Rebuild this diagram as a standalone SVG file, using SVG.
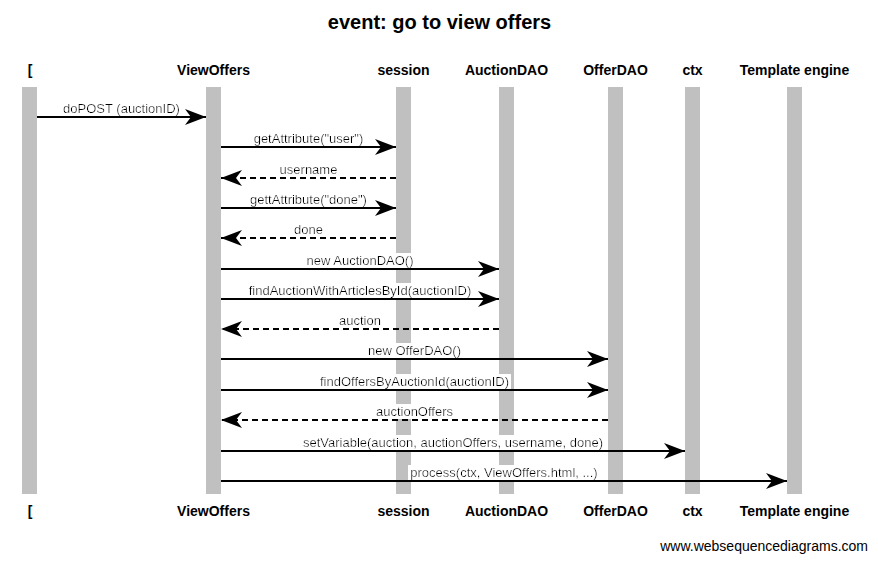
<svg xmlns="http://www.w3.org/2000/svg" width="878" height="561" viewBox="0 0 878 561">
<style>
.t{font-family:"Liberation Sans",Arial,sans-serif;fill:#000}
.title{font-size:20px;font-weight:bold;text-anchor:middle}
.pl{font-size:14px;font-weight:bold;text-anchor:middle}
.ml{font-size:13px;text-anchor:middle}
.bar{fill:#c0c0c0}
.msg{stroke:#000;stroke-width:2;fill:none;marker-end:url(#ah)}
.ret{stroke:#000;stroke-width:2;fill:none;stroke-dasharray:6,4;marker-end:url(#ah)}
</style>
<defs>
<marker id="ah" markerUnits="userSpaceOnUse" viewBox="-22 -9 23 18" markerWidth="23" markerHeight="18" refX="0" refY="0" orient="auto">
<path d="M0,0 L-21,-8 L-15,0 L-21,8 Z" fill="#000"/>
</marker>
<filter id="bg" x="-0.01" y="0" width="1.02" height="1">
<feFlood flood-color="#ffffff"/>
<feComposite in="SourceGraphic"/>
</filter>
</defs>
<rect width="878" height="561" fill="#fff"/>
<text class="t title" x="439.5" y="29">event: go to view offers</text>

<g id="p-bracket"><rect class="bar" x="22" y="87" width="15" height="407"/><text class="t pl" x="30" y="75">[</text><text class="t pl" x="30" y="516">[</text></g>
<g id="p-viewoffers"><rect class="bar" x="206" y="87" width="15" height="407"/><text class="t pl" x="213.5" y="75">ViewOffers</text><text class="t pl" x="213.5" y="516">ViewOffers</text></g>
<g id="p-session"><rect class="bar" x="396" y="87" width="15" height="407"/><text class="t pl" x="403.5" y="75">session</text><text class="t pl" x="403.5" y="516">session</text></g>
<g id="p-auctiondao"><rect class="bar" x="499" y="87" width="15" height="407"/><text class="t pl" x="506.5" y="75">AuctionDAO</text><text class="t pl" x="506.5" y="516">AuctionDAO</text></g>
<g id="p-offerdao"><rect class="bar" x="608" y="87" width="15" height="407"/><text class="t pl" x="615.5" y="75">OfferDAO</text><text class="t pl" x="615.5" y="516">OfferDAO</text></g>
<g id="p-ctx"><rect class="bar" x="685" y="87" width="15" height="407"/><text class="t pl" x="692.5" y="75">ctx</text><text class="t pl" x="692.5" y="516">ctx</text></g>
<g id="p-template"><rect class="bar" x="787" y="87" width="15" height="407"/><text class="t pl" x="794.5" y="75">Template engine</text><text class="t pl" x="794.5" y="516">Template engine</text></g>

<g id="connectors">
<line class="msg" x1="37" y1="117" x2="206" y2="117"/>
<line class="msg" x1="221" y1="147" x2="396" y2="147"/>
<line class="ret" x1="396" y1="178" x2="221" y2="178"/>
<line class="msg" x1="221" y1="208" x2="396" y2="208"/>
<line class="ret" x1="396" y1="238" x2="221" y2="238"/>
<line class="msg" x1="221" y1="269" x2="499" y2="269"/>
<line class="msg" x1="221" y1="299" x2="499" y2="299"/>
<line class="ret" x1="499" y1="329" x2="221" y2="329"/>
<line class="msg" x1="221" y1="359" x2="608" y2="359"/>
<line class="msg" x1="221" y1="390" x2="608" y2="390"/>
<line class="ret" x1="608" y1="420" x2="221" y2="420"/>
<line class="msg" x1="221" y1="451" x2="685" y2="451"/>
<line class="msg" x1="221" y1="481" x2="787" y2="481"/>
</g>

<g id="labels">
<text class="t ml" filter="url(#bg)" x="121.5" y="113">doPOST (auctionID)</text>
<text class="t ml" filter="url(#bg)" x="308.5" y="143">getAttribute("user")</text>
<text class="t ml" filter="url(#bg)" x="308.5" y="174">username</text>
<text class="t ml" filter="url(#bg)" x="308.5" y="204">gettAttribute("done")</text>
<text class="t ml" filter="url(#bg)" x="308.5" y="234">done</text>
<text class="t ml" filter="url(#bg)" x="360" y="265">new AuctionDAO()</text>
<text class="t ml" filter="url(#bg)" x="360" y="295">findAuctionWithArticlesById(auctionID)</text>
<text class="t ml" filter="url(#bg)" x="360" y="325">auction</text>
<text class="t ml" filter="url(#bg)" x="414.5" y="355">new OfferDAO()</text>
<text class="t ml" filter="url(#bg)" x="414.5" y="386">findOffersByAuctionId(auctionID)</text>
<text class="t ml" filter="url(#bg)" x="414.5" y="416">auctionOffers</text>
<text class="t ml" filter="url(#bg)" x="453" y="447">setVariable(auction, auctionOffers, username, done)</text>
<text class="t ml" filter="url(#bg)" x="504" y="477">process(ctx, ViewOffers.html, ...)</text>
</g>

<text class="t" x="868" y="551" font-size="14" text-anchor="end">www.websequencediagrams.com</text>
</svg>
